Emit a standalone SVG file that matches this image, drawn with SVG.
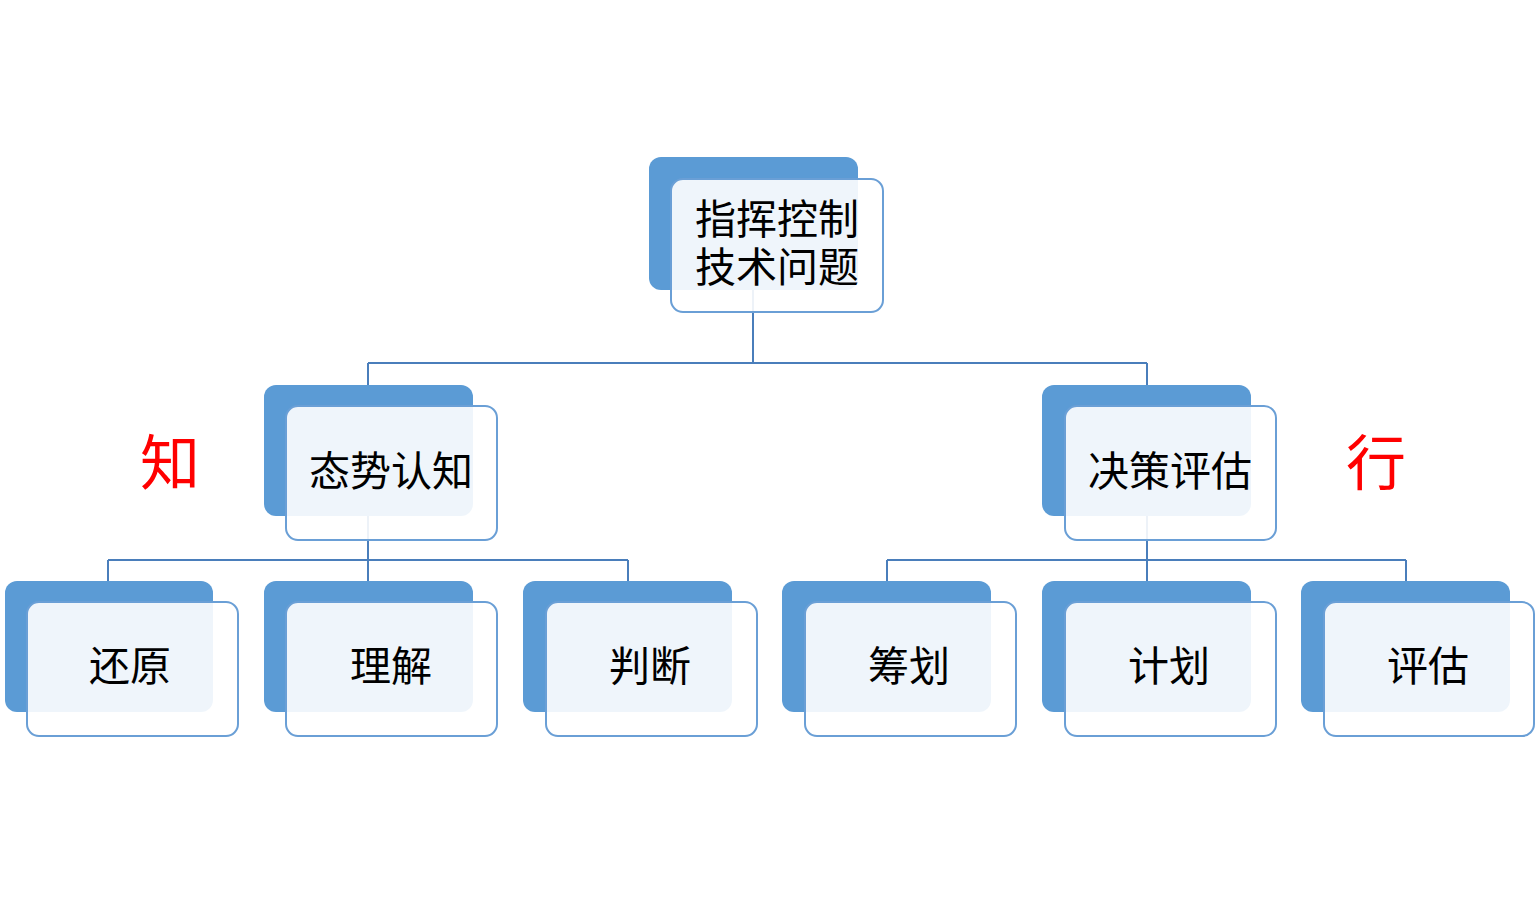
<svg xmlns="http://www.w3.org/2000/svg" width="1535" height="920" viewBox="0 0 1535 920">
<style>
.back{fill:#5B9BD5;}
.front{fill:#FFFFFF;fill-opacity:0.9;stroke:#6A9FD6;stroke-width:2;}
.lbl{font-family:"Liberation Serif","Noto Sans CJK SC",serif;font-size:41px;fill:#000000;text-anchor:middle;}
.red{font-family:"Noto Sans CJK SC",sans-serif;font-size:60px;fill:#FF0000;text-anchor:middle;}
.conn{fill:none;stroke:#4A7EBB;stroke-width:2;}
</style>
<rect width="1535" height="920" fill="#FFFFFF"/>
<g id="connectors">
<path class="conn" d="M753,290 V363 M368,363 H1147 M368,363 V385 M1147,363 V385"/>
<path class="conn" d="M368,516 V560 M108,560 H628 M108,560 V581 M368,560 V581 M628,560 V581"/>
<path class="conn" d="M1147,516 V560 M887,560 H1406 M887,560 V581 M1147,560 V581 M1406,560 V581"/>
</g>
<g id="node-root">
<rect class="back" x="649" y="157" width="209" height="133" rx="12"/>
<rect class="front" x="671" y="179" width="212" height="133" rx="12"/>
<text class="lbl" x="777" y="234">指挥控制</text>
<text class="lbl" x="777" y="282">技术问题</text>
</g>
<g id="node-situation">
<rect class="back" x="264" y="385" width="209" height="131" rx="12"/>
<rect class="front" x="286" y="406" width="211" height="134" rx="12"/>
<text class="lbl" x="391" y="486">态势认知</text>
</g>
<g id="node-decision">
<rect class="back" x="1042" y="385" width="209" height="131" rx="12"/>
<rect class="front" x="1065" y="406" width="211" height="134" rx="12"/>
<text class="lbl" x="1170" y="486">决策评估</text>
</g>
<g id="node-restore">
<rect class="back" x="5" y="581" width="208" height="131" rx="12"/>
<rect class="front" x="27" y="602" width="211" height="134" rx="12"/>
<text class="lbl" x="130" y="681">还原</text>
</g>
<g id="node-understand">
<rect class="back" x="264" y="581" width="209" height="131" rx="12"/>
<rect class="front" x="286" y="602" width="211" height="134" rx="12"/>
<text class="lbl" x="391" y="681">理解</text>
</g>
<g id="node-judge">
<rect class="back" x="523" y="581" width="209" height="131" rx="12"/>
<rect class="front" x="546" y="602" width="211" height="134" rx="12"/>
<text class="lbl" x="650" y="681">判断</text>
</g>
<g id="node-plan1">
<rect class="back" x="782" y="581" width="209" height="131" rx="12"/>
<rect class="front" x="805" y="602" width="211" height="134" rx="12"/>
<text class="lbl" x="909" y="681">筹划</text>
</g>
<g id="node-plan2">
<rect class="back" x="1042" y="581" width="209" height="131" rx="12"/>
<rect class="front" x="1065" y="602" width="211" height="134" rx="12"/>
<text class="lbl" x="1169" y="681">计划</text>
</g>
<g id="node-evaluate">
<rect class="back" x="1301" y="581" width="209" height="131" rx="12"/>
<rect class="front" x="1324" y="602" width="210" height="134" rx="12"/>
<text class="lbl" x="1428" y="681">评估</text>
</g>
<g id="label-zhi">
<text class="red" x="170" y="485">知</text>
</g>
<g id="label-xing">
<text class="red" x="1376" y="485">行</text>
</g>
</svg>
